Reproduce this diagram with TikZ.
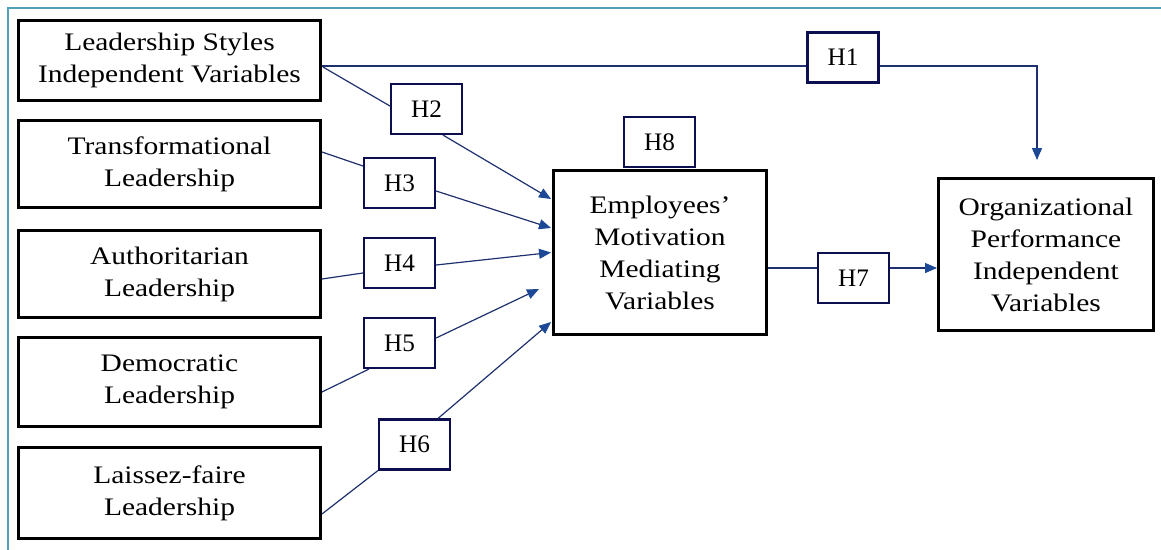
\documentclass[tikz,border=0pt]{standalone}
\usepackage{fontspec}
\setmainfont{Liberation Serif}[FakeStretch=1.17]
\newfontfamily\hfont{Liberation Serif}
\usetikzlibrary{arrows.meta,calc}
\definecolor{linecol}{RGB}{30,48,110}
\definecolor{tipcol}{RGB}{28,72,150}
\definecolor{hcol}{RGB}{12,14,80}
\definecolor{framecol}{RGB}{80,160,185}
\begin{document}
\begin{tikzpicture}[x=0.75pt,y=-0.75pt,
  box/.style={draw=black,line width=2.2pt,inner sep=0pt,align=center,font=\fontsize{18.9}{24}\selectfont},
  hbox/.style={draw=hcol,line width=1.6pt,minimum width=53.25pt,minimum height=37.5pt,inner sep=0pt,font=\hfont\fontsize{18.9}{24}\selectfont},
  conn/.style={draw=linecol,line width=0.9pt},
  arr/.style={conn,-{Triangle[length=9pt,width=7.5pt,color=tipcol]}}]
\useasboundingbox (0,0) rectangle (1161,550);
\draw[framecol,line width=0.8pt] (8,550) -- (8,8) -- (1161,8);

% left boxes
\node[box,minimum width=226.5pt,minimum height=60pt] (A) at (169.5,60.5) {Leadership Styles\\Independent Variables};
\node[box,minimum width=226.5pt,minimum height=65.25pt] (B) at (169.5,164) {Transformational\\Leadership};
\node[box,minimum width=226.5pt,minimum height=65.25pt] (C) at (169.5,274) {Authoritarian\\Leadership};
\node[box,minimum width=226.5pt,minimum height=66.75pt] (D) at (169.5,382) {Democratic\\Leadership};
\node[box,minimum width=226.5pt,minimum height=68.25pt] (E) at (169.5,493) {Laissez-faire\\Leadership};
% middle and right
\node[box,minimum width=159.75pt,minimum height=123pt] (M) at (660,252.5) {Employees’\\Motivation\\Mediating\\Variables};
\node[box,minimum width=161.25pt,minimum height=114pt] (O) at (1046,254.5) {Organizational\\Performance\\Independent\\Variables};

% hypothesis boxes
\node[hbox] (H1) at (843,57.5) {H1};
\node[hbox] (H2) at (426.5,109) {H2};
\node[hbox] (H3) at (399.5,183) {H3};
\node[hbox] (H4) at (399.5,263) {H4};
\node[hbox] (H5) at (399.5,343) {H5};
\node[hbox] (H6) at (414.5,444.5) {H6};
\node[hbox] (H7) at (853.5,278) {H7};
\node[hbox] (H8) at (659.5,142) {H8};

% H1
\draw[conn] ($(A.east)+(0,5.5)$) coordinate (a1) -- (H1.west |- a1);
\draw[arr] (H1.east |- a1) -| ($(O.north)+(-9,-17)$);
% H2
\draw[conn] ($(A.east)+(1,6.5)$) -- ($(H2.west)+(0,-3)$);
\draw[arr] ($(H2.south)+(16.5,0)$) -- ($(M.west)+(-1,-53.5)$);
% H3
\draw[conn] ($(B.east)+(0,-12)$) -- ($(H3.west)+(0,-17)$);
\draw[arr] ($(H3.east)+(0,8)$) -- ($(M.west)+(-1,-24.5)$);
% H4
\draw[conn] ($(C.east)+(0,5)$) -- ($(H4.west)+(0,10)$);
\draw[arr] ($(H4.east)+(0,2)$) -- ($(M.west)+(-1,0)$);
% H5
\draw[conn] ($(D.east)+(0,10)$) -- ($(H5.south west)+(6,0)$);
\draw[arr] ($(H5.east)+(0,-5)$) -- ($(M.west)+(-13,36.5)$);
% H6
\draw[conn] ($(E.east)+(0,21)$) -- (H6.south west);
\draw[arr] ($(H6.north)+(23.5,0)$) -- ($(M.west)+(-1,69.5)$);
% H7
\draw[conn] ($(M.east)+(0,15.5)$) coordinate (m7) -- (H7.west |- m7);
\draw[arr] (H7.east |- m7) -- (O.west |- m7);
\end{tikzpicture}
\end{document}
